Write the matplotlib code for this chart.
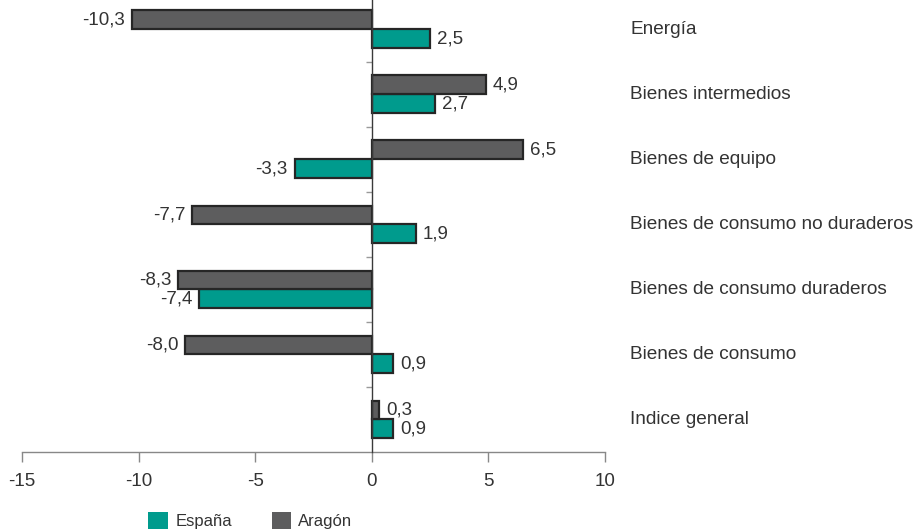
import numpy as np
import matplotlib.pyplot as plt

plt.rcParams['font.family'] = ['Liberation Sans', 'DejaVu Sans']

categorias = ['Energía', 'Bienes intermedios', 'Bienes de equipo',
              'Bienes de consumo no duraderos', 'Bienes de consumo duraderos',
              'Bienes de consumo', 'Indice general']
espana = [2.5, 2.7, -3.3, 1.9, -7.4, 0.9, 0.9]
aragon = [-10.3, 4.9, 6.5, -7.7, -8.3, -8.0, 0.3]
xticks = [-15, -10, -5, 0, 5, 10]

COLOR_ESP = '#009b8d'
COLOR_ARA = '#5d5d5e'
EDGE = '#262626'
TXT = '#333333'


def fmt(v):
    return f'{v:.1f}'.replace('.', ',')


def etiquetas(ax, ys, vals):
    for y, v in zip(ys, vals):
        if v >= 0:
            ax.text(v + 0.3, y, fmt(v), ha='left', va='center', fontsize=13.5, color=TXT)
        else:
            ax.text(v - 0.3, y, fmt(v), ha='right', va='center', fontsize=13.5, color=TXT)


fig = plt.figure(figsize=(9.22, 5.30), dpi=100)
ax = fig.add_axes([22 / 922, (530 - 452) / 530, 583 / 922, 452 / 530])

y = np.arange(len(categorias))
h = 0.29
y_ara = y - h / 2
y_esp = y + h / 2

ax.barh(y_esp, espana, height=h, color=COLOR_ESP, edgecolor=EDGE, linewidth=1.6, label='España', zorder=3)
ax.barh(y_ara, aragon, height=h, color=COLOR_ARA, edgecolor=EDGE, linewidth=1.6, label='Aragón', zorder=3)

etiquetas(ax, y_ara, aragon)
etiquetas(ax, y_esp, espana)

# nombres de categoria a la derecha
for yi, c in zip(y, categorias):
    ax.text(1.043, yi, c, transform=ax.get_yaxis_transform(), ha='left', va='center',
            fontsize=13.7, color=TXT)

ax.set_xlim(-15, 10)
ax.set_ylim(6.5, -0.45)
ax.set_xticks(xticks)
ax.set_xticklabels([str(t) for t in xticks], fontsize=13.5, color=TXT)
ax.tick_params(axis='x', length=7, width=1, color='#888888', pad=8)

ax.set_yticks(np.arange(0.5, 6.5, 1))
ax.set_yticklabels([])
ax.tick_params(axis='y', length=4, width=1, color='#999999')

ax.spines['left'].set_position(('data', 0))
ax.spines['left'].set_color('#3a3a3a')
ax.spines['left'].set_linewidth(1)
ax.spines['left'].set_zorder(4)
ax.spines['bottom'].set_color('#888888')
ax.spines['bottom'].set_linewidth(1)
ax.spines['top'].set_visible(False)
ax.spines['right'].set_visible(False)

ax.legend(loc='upper center', bbox_to_anchor=(0.392, -0.1), ncol=2, frameon=False,
          fontsize=12, handlelength=1.15, handleheight=1.15, columnspacing=2.4,
          handletextpad=0.45, labelcolor=TXT)
leg = ax.get_legend()
for p in leg.get_patches():
    p.set_edgecolor('none')

fig.savefig('out.png', dpi=100)
